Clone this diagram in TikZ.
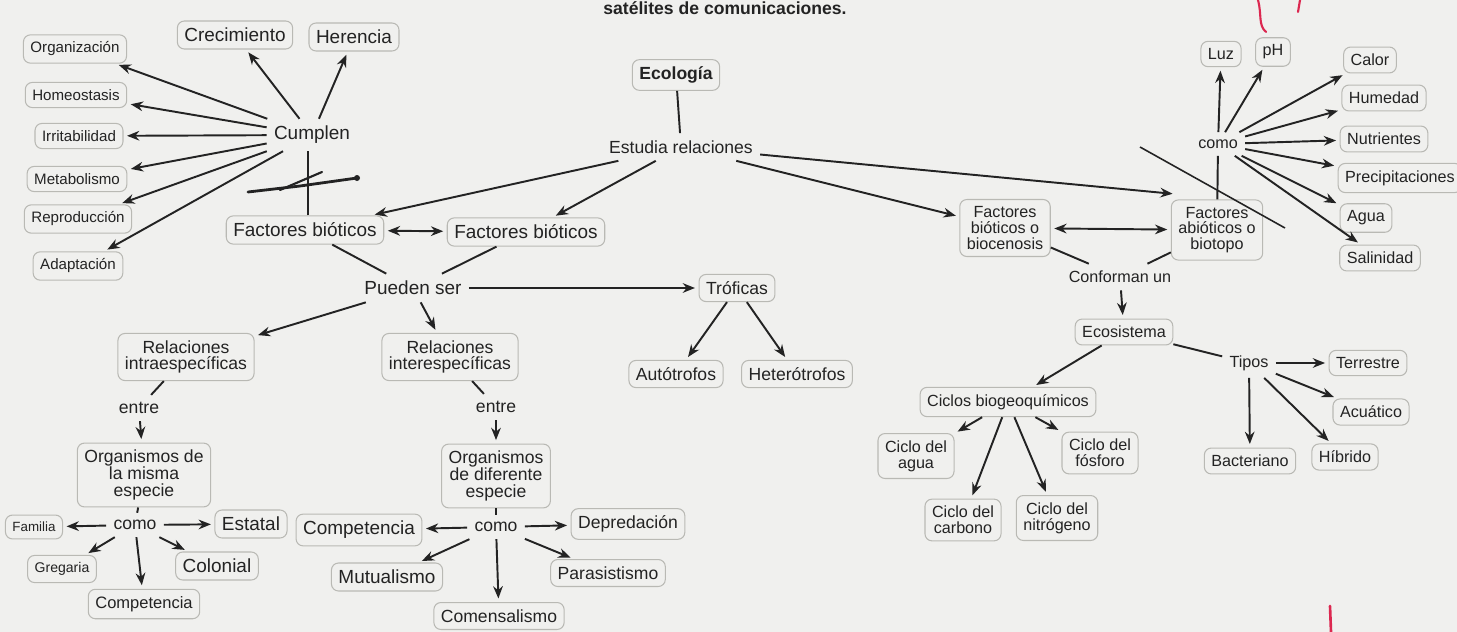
\documentclass[tikz,border=0pt]{standalone}
\usepackage{fontspec}
\setmainfont{Liberation Sans}
\usetikzlibrary{arrows.meta}
\definecolor{paper}{RGB}{240,240,238}
\definecolor{ink}{RGB}{35,35,35}
\definecolor{boxline}{RGB}{185,185,180}
\definecolor{redpen}{RGB}{220,40,80}
\tikzset{
  concept/.style={draw=boxline, line width=0.6pt, rounded corners=4pt, inner xsep=4pt, inner ysep=4pt,
    align=center, text=ink, font=\fontsize{10}{9.5}\selectfont},
  bigtxt/.style={font=\fontsize{10.8}{11}\selectfont},
  smalltxt/.style={font=\fontsize{8.6}{9}\selectfont},
  sidetxt/.style={font=\fontsize{9.2}{9}\selectfont},
  linkword/.style={inner sep=4pt, text=ink, font=\fontsize{10}{10}\selectfont},
  arr/.style={draw=ink, line width=1.1pt, shorten >=2pt, -{Stealth[length=7pt,width=5.5pt]}},
  plainline/.style={draw=ink, line width=1.1pt},
  dblarr/.style={draw=ink, line width=1.1pt, shorten >=2pt, shorten <=2pt,
    {Stealth[length=7pt,width=5.5pt]}-{Stealth[length=7pt,width=5.5pt]}},
}
\begin{document}
\begin{tikzpicture}[x=0.02cm, y=-0.02cm]
        % Page
        \fill[paper] (0,0) rectangle (1457,632);
        \useasboundingbox (0,0) rectangle (1457,632);
        \node[font=\bfseries\fontsize{10}{10}\selectfont, text=ink, anchor=north, inner sep=1pt] (titulo) at (725,0) {satélites de comunicaciones.};

        % Ecologia
        \node[concept, font=\bfseries\fontsize{10}{10}\selectfont] (ecologia) at (676,75) {Ecología};
        \node[linkword] (estudia) at (681,147) {Estudia relaciones};
        \draw[plainline] (ecologia) -- (estudia);

        % Left branch: characteristics
        \node[concept, bigtxt] (fbioA) at (305,230) {Factores bióticos};
        \node[concept, bigtxt] (fbioB) at (526,232) {Factores bióticos};
        \node[linkword, bigtxt] (cumplen) at (312,135) {Cumplen};
        \node[concept, bigtxt] (crecim) at (235,35) {Crecimiento};
        \node[concept, bigtxt] (herencia) at (354,37) {Herencia};
        \node[concept, smalltxt] (organiz) at (75,49) {Organización};
        \node[concept, smalltxt] (homeo) at (76,95) {Homeostasis};
        \node[concept, smalltxt] (irrit) at (79,136) {Irritabilidad};
        \node[concept, smalltxt] (metab) at (77,179) {Metabolismo};
        \node[concept, smalltxt] (reprod) at (78,219) {Reproducción};
        \node[concept, smalltxt] (adapt) at (78,266) {Adaptación};
        \draw[plainline] (fbioA.north -| 308,0) -- (cumplen.south -| 308,0);
        \foreach \t in {crecim,herencia,organiz,homeo,irrit,metab,reprod,adapt}
            \draw[arr] (cumplen) -- (\t);
        \draw[arr] (estudia) -- (fbioA);
        \draw[arr] (estudia) -- (fbioB);
        \draw[dblarr] (fbioA) -- (fbioB);

        % Pueden ser
        \node[linkword, bigtxt] (pueden) at (413,288) {Pueden ser};
        \node[concept] (troficas) at (737,288) {Tróficas};
        \node[concept] (autotrofos) at (676,374) {Autótrofos};
        \node[concept] (heterotrofos) at (797,374) {Heterótrofos};
        \node[concept] (intra) at (186,357) {Relaciones\\intraespecíficas};
        \node[concept] (inter) at (450,357) {Relaciones\\interespecíficas};
        \draw[plainline] (fbioA) -- (pueden);
        \draw[plainline] (fbioB) -- (pueden);
        \draw[arr] (pueden) -- (troficas);
        \draw[arr] (pueden) -- (intra);
        \draw[arr] (pueden) -- (inter);
        \draw[arr] (troficas) -- (autotrofos);
        \draw[arr] (troficas) -- (heterotrofos);

        % Intraspecific
        \node[linkword] (entreL) at (139,408) {entre};
        \node[concept] (orgL) at (144,475) {Organismos de\\la misma\\especie};
        \node[linkword] (comoL) at (135,525) {como};
        \node[concept, font=\fontsize{7.6}{8}\selectfont] (familia) at (34,527) {Familia};
        \node[concept, font=\fontsize{8}{8}\selectfont] (gregaria) at (62,569) {Gregaria};
        \node[concept, bigtxt] (estatal) at (251,524) {Estatal};
        \node[concept, bigtxt] (colonial) at (217,566) {Colonial};
        \node[concept, font=\fontsize{9.4}{9.4}\selectfont] (compL) at (144,604) {Competencia};
        \draw[plainline] (intra) -- (entreL);
        \draw[arr] (entreL) -- (orgL);
        \draw[plainline] (orgL) -- (comoL);
        \foreach \t in {familia,gregaria,estatal,colonial,compL}
            \draw[arr] (comoL) -- (\t);

        % Interspecific
        \node[linkword] (entreR) at (496,407) {entre};
        \node[concept] (orgR) at (496,476) {Organismos\\de diferente\\especie};
        \node[linkword] (comoR) at (496,527) {como};
        \node[concept, bigtxt] (compR) at (359,530) {Competencia};
        \node[concept] (depred) at (628,524) {Depredación};
        \node[concept, bigtxt] (mutual) at (387,577) {Mutualismo};
        \node[concept] (parasit) at (608,573) {Parasistismo};
        \node[concept] (comensal) at (499,616) {Comensalismo};
        \draw[plainline] (inter) -- (entreR);
        \draw[arr] (entreR) -- (orgR);
        \draw[plainline] (orgR) -- (comoR);
        \foreach \t in {compR,depred,mutual,parasit,comensal}
            \draw[arr] (comoR) -- (\t);

        % Right branch: ecosystem
        \node[concept, sidetxt] (biocenosis) at (1005,228) {Factores\\bióticos o\\biocenosis};
        \node[concept, sidetxt] (biotopo) at (1217,230) {Factores\\abióticos o\\biotopo};
        \node[linkword, sidetxt] (conforman) at (1120,277) {Conforman un};
        \node[concept, sidetxt] (ecosistema) at (1124,332) {Ecosistema};
        \draw[arr] (estudia) -- (biocenosis);
        \draw[arr] (estudia) -- ([xshift=3pt,yshift=3pt]biotopo.north west);
        \draw[dblarr] (biocenosis) -- (biotopo);
        \draw[plainline] (biocenosis) -- (conforman);
        \draw[plainline] (biotopo) -- (conforman);
        \draw[arr] (conforman) -- (ecosistema);

        % Cycles
        \node[concept, sidetxt] (ciclos) at (1008,402) {Ciclos biogeoquímicos};
        \node[concept, sidetxt] (cagua) at (916,456) {Ciclo del\\agua};
        \node[concept, sidetxt] (cfosforo) at (1100,453) {Ciclo del\\fósforo};
        \node[concept, sidetxt] (ccarbono) at (963,520) {Ciclo del\\carbono};
        \node[concept, sidetxt] (cnitro) at (1057,518) {Ciclo del\\nitrógeno};
        \draw[arr] (ecosistema) -- (ciclos);
        \foreach \t in {cagua,cfosforo,ccarbono,cnitro}
            \draw[arr] (ciclos) -- (\t);

        % Types
        \node[linkword, sidetxt] (tipos) at (1249,363) {Tipos};
        \node[concept, sidetxt] (terrestre) at (1368,363) {Terrestre};
        \node[concept, sidetxt] (acuatico) at (1371,412) {Acuático};
        \node[concept, sidetxt] (bacteriano) at (1250,461) {Bacteriano};
        \node[concept, sidetxt] (hibrido) at (1345,457) {Híbrido};
        \draw[plainline] (ecosistema) -- (tipos);
        \foreach \t in {terrestre,acuatico,bacteriano,hibrido}
            \draw[arr] (tipos) -- (\t);

        % Abiotic factors
        \node[linkword, sidetxt] (comoT) at (1218,144) {como};
        \node[concept, sidetxt] (luz) at (1221,54) {Luz};
        \node[concept, sidetxt] (ph) at (1273,52) {pH};
        \node[concept, sidetxt] (calor) at (1370,60) {Calor};
        \node[concept, sidetxt] (humedad) at (1384,98) {Humedad};
        \node[concept, sidetxt] (nutrientes) at (1384,139) {Nutrientes};
        \node[concept, sidetxt] (precip) at (1400,178) {Precipitaciones};
        \node[concept, sidetxt] (agua) at (1366,218) {Agua};
        \node[concept, sidetxt] (salinidad) at (1380,258) {Salinidad};
        \draw[plainline] (biotopo) -- (comoT);
        \foreach \t in {luz,ph,calor,humedad,nutrientes,precip,agua,salinidad}
            \draw[arr] (comoT) -- (\t);

        % Stray stroke and pen marks
        \coordinate (s1) at (1140,147);
        \coordinate (s2) at (1285,228);
        \draw[plainline, line width=0.9pt] (s1) -- (s2);
        \draw[ink, line width=1.6pt, line cap=round] (248,192) -- (300,186) -- (357,178);
        \draw[ink, line width=1.2pt, line cap=round] (280,190) -- (322,172);
        \fill[ink] (357,178) circle (3);
        \draw[redpen, line width=1.2pt, line cap=round] (1258,0) .. controls (1262,15) and (1258,25) .. (1266,32);
        \draw[redpen, line width=1.2pt, line cap=round] (1300,0) -- (1298,12);
        \draw[redpen, line width=1.5pt, line cap=round] (1330,606) -- (1331,632);
\end{tikzpicture}
\end{document}
